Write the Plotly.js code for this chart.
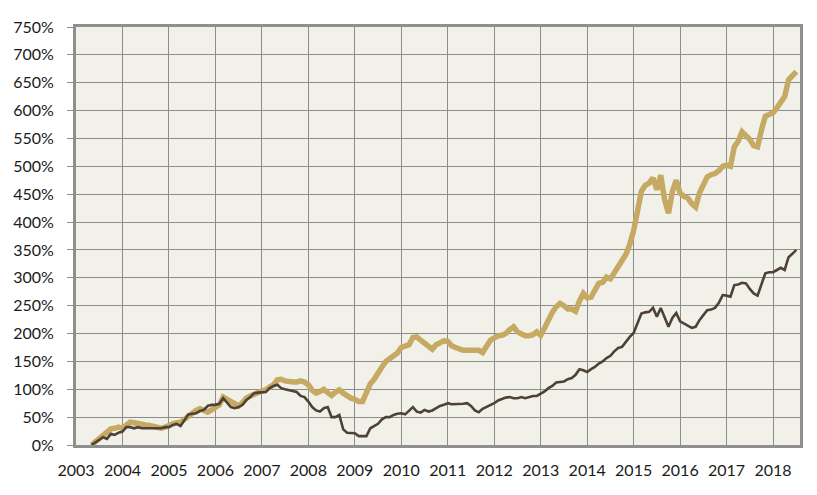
<!DOCTYPE html>
<html>
<head>
<meta charset="utf-8">
<script src="https://cdn.plot.ly/plotly-3.0.1.min.js"></script>
<style>
html,body{margin:0;padding:0;background:#ffffff;}
#chart{width:817px;height:495px;}
</style>
</head>
<body>
<div id="chart"></div>
<script>
// First month of the series (May 2003) and monthly values through July 2018
var startYear = 2003;
var startMonth = 5;

// Gold (thick) series, percent
var goldValues = [
  // 2003 May-Dec
  0, 6, 12, 16, 22, 29, 30, 32,
  // 2004
  30, 36, 41, 40, 38, 38, 36, 35, 33, 32, 30, 32,
  // 2005
  36, 38, 40, 41, 46, 52, 57, 62, 65, 61, 59, 63,
  // 2006
  68, 72, 86, 82, 76, 72, 70, 76, 84, 88, 90, 94,
  // 2007
  97, 99, 104, 108, 117, 118, 115, 113, 113, 113, 115, 113,
  // 2008
  108, 98, 93, 96, 100, 94, 89, 95, 99, 93, 88, 84,
  // 2009
  82, 78, 78, 95, 110, 118, 127, 140, 150, 156, 160, 165,
  // 2010
  175, 177, 180, 193, 194, 188, 182, 175, 172, 180, 185, 187,
  // 2011
  186, 178, 175, 172, 170, 170, 170, 170, 170, 166, 175, 188,
  // 2012
  192, 196, 197, 200, 207, 212, 203, 198, 196, 196, 198, 203,
  // 2013
  197, 210, 225, 238, 248, 254, 250, 244, 244, 240, 258, 272,
  // 2014
  264, 265, 278, 290, 292, 301, 298, 308, 318, 330, 342, 360,
  // 2015
  385, 420, 455, 466, 470, 479, 458, 484, 440, 416, 455, 475,
  // 2016
  452, 446, 443, 433, 427, 452, 465, 481, 485, 487, 492, 500,
  // 2017
  502, 500, 535, 545, 562, 556, 548, 537, 535, 565, 590, 593,
  // 2018 Jan-Jul
  596, 605, 615, 625, 655, 662, 670
];

// Dark brown (thin) series, percent
var brownValues = [
  // 2003 May-Dec
  0, 5, 10, 14, 11, 20, 18, 22,
  // 2004
  24, 32, 32, 30, 32, 30, 30, 30, 30, 30, 30, 32,
  // 2005
  32, 36, 38, 34, 45, 55, 56, 57, 61, 63, 70, 72,
  // 2006
  72, 74, 84, 76, 68, 66, 68, 72, 81, 86, 93, 94,
  // 2007
  95, 95, 102, 106, 108, 102, 100, 98, 97, 95, 88, 86,
  // 2008
  78, 68, 62, 60, 66, 68, 50, 50, 54, 28, 22, 21,
  // 2009
  21, 16, 16, 16, 30, 34, 38, 46, 50, 50, 54, 56,
  // 2010
  57, 55, 62, 68, 60, 58, 63, 60, 62, 66, 70, 72,
  // 2011
  75, 73, 73, 73, 74, 75, 70, 62, 59, 65, 68, 72,
  // 2012
  75, 80, 83, 85, 86, 84, 84, 86, 84, 86, 88, 88,
  // 2013
  92, 96, 102, 106, 112, 113, 114, 118, 120, 126, 136, 134,
  // 2014
  131, 136, 140, 146, 150, 156, 160, 168, 174, 176, 186, 194,
  // 2015
  201, 220, 236, 238, 239, 246, 230, 246, 228, 212, 228, 237,
  // 2016
  222, 218, 213, 210, 212, 224, 233, 242, 243, 246, 255, 269,
  // 2017
  268, 266, 287, 288, 291, 290, 280, 272, 268, 290, 308, 310,
  // 2018 Jan-Jul
  310, 314, 318, 314, 337, 343, 350
];

var yearTicks = [2003, 2004, 2005, 2006, 2007, 2008, 2009, 2010, 2011, 2012, 2013, 2014, 2015, 2016, 2017, 2018];
var yearLabels = ['2003', '2004', '2005', '2006', '2007', '2008', '2009', '2010', '2011', '2012', '2013', '2014', '2015', '2016', '2017', '2018'];

// Decimal-year positions for each monthly observation
var months = [];
for (var i = 0; i < goldValues.length; i++) {
  months.push(startYear + (startMonth - 1 + i) / 12);
}

var gridCol = '#8c8c8c';
var frameCol = '#8f8f8f';

var traces = [
  {
    x: months, y: goldValues, type: 'scatter', mode: 'lines',
    line: {color: '#C6A963', width: 5.5, shape: 'linear'},
    hoverinfo: 'skip', showlegend: false
  },
  {
    x: months, y: brownValues, type: 'scatter', mode: 'lines',
    line: {color: '#4E4237', width: 2.6, shape: 'linear'},
    hoverinfo: 'skip', showlegend: false
  }
];

var layout = {
  width: 817, height: 495,
  margin: {l: 76, r: 17, t: 27, b: 50, pad: 0},
  paper_bgcolor: '#ffffff',
  plot_bgcolor: '#F2F1E9',
  font: {family: 'Lato, "Liberation Sans", sans-serif', size: 16, color: '#1a1a1a'},
  showlegend: false,
  xaxis: {
    type: 'linear',
    range: [2003, 2018.58],
    tickmode: 'array', tickvals: yearTicks, ticktext: yearLabels,
    showgrid: true, gridcolor: gridCol, gridwidth: 1,
    zeroline: false,
    showline: true, linecolor: frameCol, linewidth: 3, mirror: true,
    ticks: '', ticklabelstandoff: 9,
    tickfont: {family: 'Lato, "Liberation Sans", sans-serif', size: 16, color: '#1a1a1a'},
    fixedrange: true
  },
  yaxis: {
    range: [0, 750],
    tick0: 0, dtick: 50,
    ticksuffix: '%',
    showgrid: true, gridcolor: gridCol, gridwidth: 1,
    zeroline: false,
    showline: true, linecolor: frameCol, linewidth: 3, mirror: true,
    ticks: 'outside', ticklen: 6, tickcolor: gridCol, tickwidth: 1,
    ticklabelstandoff: 10,
    tickfont: {family: 'Lato, "Liberation Sans", sans-serif', size: 16, color: '#1a1a1a'},
    fixedrange: true
  }
};

Plotly.newPlot('chart', traces, layout, {displayModeBar: false, staticPlot: true});
</script>
</body>
</html>
